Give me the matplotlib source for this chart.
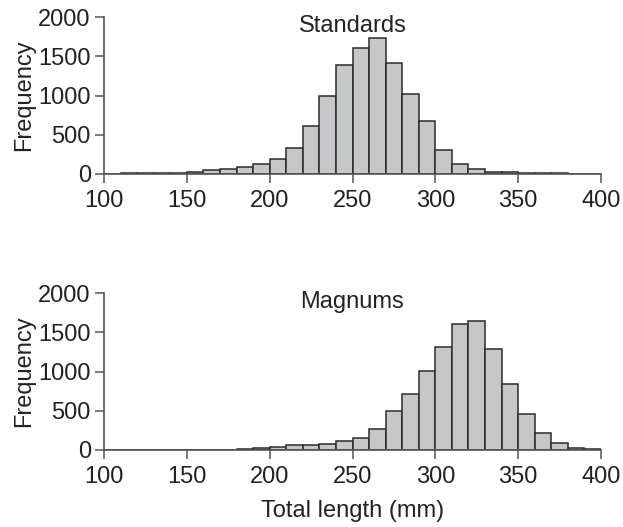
import matplotlib
matplotlib.use("Agg")
import matplotlib.pyplot as plt
import numpy as np

plt.rcParams['font.family'] = ['Liberation Sans', 'DejaVu Sans']

bin_edges = list(range(100, 401, 10))
standards = [5, 10, 10, 10, 10, 30, 50, 64, 90, 133, 192, 337, 608, 992, 1390,
             1610, 1733, 1415, 1017, 670, 312, 126, 64, 26, 22, 13, 13, 10, 4, 1]
magnums = [0, 6, 6, 6, 6, 6, 6, 6, 12, 26, 38, 64, 64, 75, 111,
           150, 272, 495, 712, 1012, 1310, 1607, 1641, 1284, 838, 455, 213, 87, 21, 9]
panels = ["Standards", "Magnums"]
xticks = [100, 150, 200, 250, 300, 350, 400]
yticks = [0, 500, 1000, 1500, 2000]

W, H = 623, 527
fig = plt.figure(figsize=(W / 100, H / 100), dpi=100)

def px_axes(x0, x1, ytop, ybot):
    return fig.add_axes([x0 / W, 1 - ybot / H, (x1 - x0) / W, (ybot - ytop) / H])

ax1 = px_axes(104, 601, 17, 174)
ax2 = px_axes(104, 601, 293, 450)

fs = 17
for ax, counts, name in zip([ax1, ax2], [standards, magnums], panels):
    left = np.array(bin_edges[:-1])
    ax.bar(left, counts, width=10, align='edge', color='#c6c7c9',
           edgecolor='#2b2b2b', linewidth=1.1, zorder=2)
    ax.set_xlim(100, 400)
    ax.set_ylim(0, 2000)
    ax.set_xticks(xticks)
    ax.set_yticks(yticks)
    for s in ['top', 'right']:
        ax.spines[s].set_visible(False)
    for s in ['left', 'bottom']:
        ax.spines[s].set_color('#555555')
        ax.spines[s].set_linewidth(1.2)
    ax.spines['bottom'].set_zorder(3)
    ax.tick_params(direction='out', length=6.5, width=1.1, color='#555555',
                   labelsize=fs, labelcolor='#222222', pad=3)
    ax.tick_params(axis='x', pad=5)
    ax.set_ylabel("Frequency", fontsize=fs, color='#222222', labelpad=2)
    ax.text(250, 1880, name, ha='center', va='center', fontsize=fs, color='#222222')
    ax.patch.set_visible(False)

ax2.set_xlabel("Total length (mm)", fontsize=fs, color='#222222', labelpad=9)

fig.savefig("out.png", dpi=100)
